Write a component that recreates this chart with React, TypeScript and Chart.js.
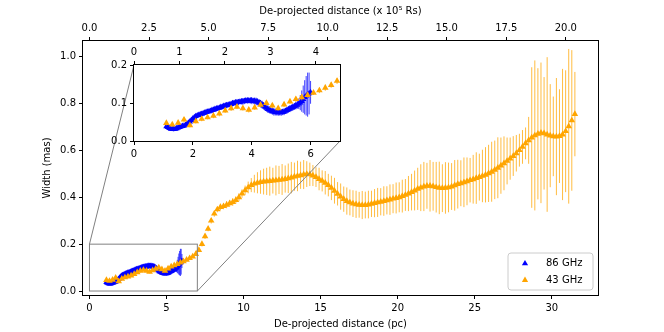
import React, { useEffect, useRef } from "react";
import { Chart, registerables } from "chart.js";

Chart.register(...registerables);

const FONT_FAMILY = "'DejaVu Sans', 'Liberation Sans', sans-serif";
const ORANGE = "#FFA500";
const BLUE = "#0000FF";

// ---------------- data ----------------
// 43 GHz: de-projected distance (pc)
const X43 = [
  1.1, 1.3, 1.5, 1.7, 1.9, 2.1, 2.3, 2.5, 2.7, 2.9, 3.1, 3.3, 3.5, 3.7, 3.9, 4.1, 4.3, 4.5, 4.7, 4.9,
  5.1, 5.3, 5.5, 5.7, 5.9, 6.1, 6.3, 6.5, 6.7, 6.9, 7.1, 7.3, 7.5, 7.7, 7.9, 8.1, 8.3, 8.5, 8.7, 8.9,
  9.1, 9.3, 9.5, 9.7, 9.9, 10.1, 10.3, 10.5, 10.7, 10.9, 11.1, 11.3, 11.5, 11.7, 11.9, 12.1, 12.3, 12.5, 12.7, 12.9,
  13.1, 13.3, 13.5, 13.7, 13.9, 14.1, 14.3, 14.5, 14.7, 14.9, 15.1, 15.3, 15.5, 15.7, 15.9, 16.1, 16.3, 16.5, 16.7, 16.9,
  17.1, 17.3, 17.5, 17.7, 17.9, 18.1, 18.3, 18.5, 18.7, 18.9, 19.1, 19.3, 19.5, 19.7, 19.9, 20.1, 20.3, 20.5, 20.7, 20.9,
  21.1, 21.3, 21.5, 21.7, 21.9, 22.1, 22.3, 22.5, 22.7, 22.9, 23.1, 23.3, 23.5, 23.7, 23.9, 24.1, 24.3, 24.5, 24.7, 24.9,
  25.1, 25.3, 25.5, 25.7, 25.9, 26.1, 26.3, 26.5, 26.7, 26.9, 27.1, 27.3, 27.5, 27.7, 27.9, 28.1, 28.3, 28.5, 28.7, 28.9,
  29.1, 29.3, 29.5, 29.7, 29.9, 30.1, 30.3, 30.5, 30.7, 30.9, 31.1, 31.3, 31.5,
];
// 43 GHz: width (mas)
const W43 = [
  0.047, 0.043, 0.048, 0.056, 0.041, 0.052, 0.058, 0.062, 0.066, 0.072, 0.080, 0.086, 0.090, 0.086, 0.082, 0.088, 0.095, 0.100, 0.093, 0.086,
  0.096, 0.104, 0.110, 0.115, 0.121, 0.127, 0.133, 0.140, 0.147, 0.158, 0.175, 0.200, 0.233, 0.265, 0.300, 0.330, 0.348, 0.358, 0.362, 0.368,
  0.374, 0.380, 0.388, 0.400, 0.416, 0.430, 0.442, 0.452, 0.458, 0.462, 0.465, 0.467, 0.468, 0.469, 0.471, 0.472, 0.474, 0.476, 0.478, 0.481,
  0.484, 0.488, 0.491, 0.494, 0.497, 0.499, 0.498, 0.493, 0.486, 0.478, 0.470, 0.462, 0.452, 0.440, 0.428, 0.415, 0.403, 0.392, 0.384, 0.378,
  0.373, 0.370, 0.368, 0.367, 0.367, 0.369, 0.372, 0.375, 0.378, 0.381, 0.384, 0.387, 0.390, 0.394, 0.397, 0.400, 0.405, 0.410, 0.416, 0.422,
  0.429, 0.436, 0.441, 0.446, 0.449, 0.449, 0.447, 0.443, 0.440, 0.439, 0.440, 0.442, 0.446, 0.451, 0.456, 0.460, 0.464, 0.468, 0.473, 0.477,
  0.482, 0.486, 0.491, 0.496, 0.502, 0.509, 0.517, 0.526, 0.535, 0.545, 0.555, 0.565, 0.576, 0.588, 0.601, 0.615, 0.630, 0.643, 0.655, 0.664,
  0.671, 0.675, 0.673, 0.668, 0.663, 0.660, 0.659, 0.661, 0.668, 0.682, 0.703, 0.728, 0.755,
];
// 43 GHz: half error (mas)
const E43 = [
  0.006, 0.005, 0.006, 0.007, 0.005, 0.006, 0.006, 0.005, 0.006, 0.007, 0.006, 0.007, 0.006, 0.006, 0.007, 0.006, 0.007, 0.008, 0.007, 0.006,
  0.007, 0.006, 0.007, 0.008, 0.007, 0.006, 0.007, 0.008, 0.007, 0.008,
  0.009, 0.010, 0.011, 0.010, 0.012, 0.013, 0.012, 0.014, 0.013, 0.015, 0.014, 0.016, 0.015, 0.017, 0.018,
  0.020, 0.025, 0.030, 0.038, 0.045, 0.050, 0.055, 0.058, 0.062, 0.055, 0.064, 0.060, 0.066, 0.058, 0.063, 0.067, 0.060, 0.065, 0.058, 0.062, 0.055,
  0.050, 0.045, 0.042, 0.048, 0.045, 0.050, 0.048, 0.052, 0.055, 0.050, 0.056, 0.054, 0.058, 0.055, 0.057,
  0.058, 0.055, 0.060, 0.057, 0.059, 0.056, 0.060, 0.062, 0.058, 0.063, 0.060, 0.065, 0.062, 0.066, 0.064, 0.070, 0.068, 0.075, 0.078,
  0.085, 0.090, 0.100, 0.105, 0.098, 0.110, 0.104, 0.108, 0.112, 0.102, 0.110, 0.106, 0.100, 0.108, 0.104, 0.098, 0.106, 0.102, 0.095, 0.104,
  0.110, 0.100, 0.112, 0.118, 0.122,
  0.128, 0.125, 0.130, 0.120, 0.115, 0.100, 0.090, 0.085, 0.078, 0.070, 0.072, 0.068, 0.100,
  0.300, 0.320, 0.280, 0.300, 0.240, 0.330, 0.220, 0.170, 0.250, 0.200, 0.280, 0.260, 0.330, 0.300, 0.180,
];

// 86 GHz: de-projected distance (pc)
const X86 = [
  1.10, 1.15, 1.20, 1.25, 1.30, 1.35, 1.40, 1.45, 1.50, 1.55, 1.60, 1.65, 1.70, 1.75, 1.80, 1.85, 1.90, 1.95, 2.00,
  2.05, 2.10, 2.15, 2.20, 2.25, 2.30, 2.35, 2.40, 2.45, 2.50, 2.55, 2.60, 2.65, 2.70, 2.75, 2.80, 2.85, 2.90, 2.95, 3.00,
  3.05, 3.10, 3.15, 3.20, 3.25, 3.30, 3.35, 3.40, 3.45, 3.50, 3.55, 3.60, 3.65, 3.70, 3.75, 3.80, 3.85, 3.90, 3.95, 4.00,
  4.05, 4.10, 4.15, 4.20, 4.25, 4.30, 4.35, 4.40, 4.45, 4.50, 4.55, 4.60, 4.65, 4.70, 4.75, 4.80, 4.85, 4.90, 4.95, 5.00,
  5.05, 5.10, 5.15, 5.20, 5.25, 5.30, 5.35, 5.40, 5.45, 5.50, 5.55, 5.60, 5.65, 5.70, 5.75, 5.80, 5.85, 5.90, 5.95, 6.00,
];
// 86 GHz: width (mas)
const W86 = [
  0.038, 0.036, 0.034, 0.032, 0.031, 0.031, 0.032, 0.033, 0.035, 0.036, 0.038, 0.039, 0.040, 0.042, 0.045, 0.048, 0.051, 0.055, 0.059,
  0.062, 0.065, 0.067, 0.068, 0.070, 0.071, 0.073, 0.074, 0.076, 0.077, 0.078, 0.079, 0.081, 0.082, 0.084, 0.085, 0.086, 0.087, 0.089, 0.090,
  0.092, 0.093, 0.094, 0.095, 0.096, 0.097, 0.099, 0.100, 0.101, 0.102, 0.102, 0.103, 0.104, 0.104, 0.105, 0.106, 0.106, 0.106, 0.106, 0.106,
  0.105, 0.105, 0.104, 0.103, 0.101, 0.099, 0.096, 0.093, 0.090, 0.087, 0.084, 0.082, 0.080, 0.078, 0.077, 0.076, 0.075, 0.075, 0.075, 0.075,
  0.076, 0.077, 0.079, 0.081, 0.083, 0.085, 0.087, 0.089, 0.091, 0.093, 0.095, 0.098, 0.101, 0.105, 0.110, 0.115, 0.119, 0.122, 0.125, 0.128,
];
// 86 GHz: half error (mas)
const E86 = [
  0.005, 0.006, 0.005, 0.004, 0.005, 0.006, 0.005, 0.006, 0.007, 0.006, 0.005, 0.006, 0.005, 0.006, 0.005, 0.006, 0.007, 0.006, 0.005,
  0.006, 0.007, 0.006, 0.005, 0.006, 0.007, 0.006, 0.007, 0.006, 0.007, 0.006, 0.005, 0.006, 0.007, 0.006, 0.007, 0.006, 0.007, 0.006, 0.007,
  0.006, 0.007, 0.008, 0.007, 0.006, 0.007, 0.008, 0.007, 0.008, 0.007, 0.008, 0.007, 0.008, 0.009, 0.008, 0.007, 0.008, 0.007, 0.008, 0.009,
  0.008, 0.009, 0.010, 0.009, 0.008, 0.009, 0.010, 0.009, 0.010, 0.009, 0.010, 0.009, 0.008, 0.009, 0.010, 0.009, 0.008, 0.009, 0.008, 0.009,
  0.008, 0.009, 0.008, 0.009, 0.008, 0.009, 0.008, 0.009, 0.009, 0.010, 0.010, 0.014, 0.020, 0.028, 0.036, 0.045, 0.052, 0.058, 0.055, 0.030,
];

const LABEL_86 = "86 GHz";
const LABEL_43 = "43 GHz";

// ticks
const MAIN_X_TICKS = [0, 5, 10, 15, 20, 25, 30];
const MAIN_TOP_TICKS = [0, 2.5, 5, 7.5, 10, 12.5, 15, 17.5, 20];
const MAIN_Y_TICKS = [0, 0.2, 0.4, 0.6, 0.8, 1.0];
const INSET_X_TICKS = [0, 2, 4, 6];
const INSET_TOP_TICKS = [0, 1, 2, 3, 4];
const INSET_Y_TICKS = [0, 0.1, 0.2];

// pc -> 10^5 Rs
const PC_TO_RS5 = 0.647;

const MAIN_X_RANGE = [-0.42, 33.0];
const MAIN_Y_RANGE = [-0.017, 1.067];
const INSET_X_RANGE = [0, 7];
const INSET_Y_RANGE = [0, 0.2];

// layout (pixels)
const W = 664;
const H = 332;
const MAIN_AREA = { left: 83, top: 41, right: 598, bottom: 295 };
const INSET_CANVAS = { left: 94, top: 30, width: 262, height: 135 };
const INSET_AREA = { left: 134, top: 65, right: 340, bottom: 141 };

const tickFont = { family: FONT_FAMILY, size: 10 };

function linAxis(
  axis: string,
  position: string,
  min: number,
  max: number,
  ticks: number[],
  fmt: (v: number) => string,
  size: number,
  title?: string,
  titlePad?: any
) {
  return {
    type: "linear",
    axis,
    position,
    min,
    max,
    afterBuildTicks: (s: any) => {
      s.ticks = ticks.map((v) => ({ value: v }));
    },
    afterFit: (s: any) => {
      if (s.isHorizontal()) s.height = size;
      else s.width = size;
    },
    ticks: {
      font: tickFont,
      color: "#000",
      padding: 3,
      autoSkip: false,
      maxRotation: 0,
      minRotation: 0,
      callback: (v: any) => fmt(Number(v)),
    },
    grid: {
      display: true,
      drawOnChartArea: false,
      drawTicks: true,
      tickLength: 4,
      tickColor: "#000",
      tickWidth: 1,
      color: "#000",
    },
    border: { display: false },
    title: title
      ? { display: true, text: title, color: "#000", font: tickFont, padding: titlePad }
      : { display: false },
  };
}

const errorBarPlugin = {
  id: "errorBars",
  beforeDatasetDraw(chart: any, args: any) {
    const ds = chart.data.datasets[args.index];
    const errs: number[] = ds.errors;
    if (!errs) return;
    const { ctx, chartArea: a } = chart;
    const xs = chart.scales.x;
    const ys = chart.scales.y;
    ctx.save();
    ctx.beginPath();
    ctx.rect(a.left, a.top, a.right - a.left, a.bottom - a.top);
    ctx.clip();
    ctx.strokeStyle = ds.errColor;
    ctx.lineWidth = 0.75;
    ds.data.forEach((p: any, i: number) => {
      const px = xs.getPixelForValue(p.x);
      ctx.beginPath();
      ctx.moveTo(px, ys.getPixelForValue(p.y - errs[i]));
      ctx.lineTo(px, ys.getPixelForValue(p.y + errs[i]));
      ctx.stroke();
    });
    ctx.restore();
  },
};

function drawFrame(ctx: CanvasRenderingContext2D, a: any) {
  ctx.save();
  ctx.strokeStyle = "#000";
  ctx.lineWidth = 1;
  const l = Math.round(a.left) - 0.5;
  const t = Math.round(a.top) - 0.5;
  const r = Math.round(a.right) + 0.5;
  const b = Math.round(a.bottom) + 0.5;
  ctx.strokeRect(l, t, r - l, b - t);
  ctx.restore();
}

function triangle(ctx: CanvasRenderingContext2D, x: number, y: number, r: number, color: string) {
  ctx.beginPath();
  ctx.moveTo(x, y - r);
  ctx.lineTo(x + r * 0.866, y + r * 0.5);
  ctx.lineTo(x - r * 0.866, y + r * 0.5);
  ctx.closePath();
  ctx.fillStyle = color;
  ctx.fill();
}

const mainDecor = {
  id: "mainDecor",
  afterDatasetsDraw(chart: any) {
    const { ctx, chartArea: a, scales } = chart;
    const xs = scales.x;
    const ys = scales.y;
    ctx.save();
    // zoom rectangle + connectors
    const rx0 = xs.getPixelForValue(INSET_X_RANGE[0]);
    const rx1 = xs.getPixelForValue(INSET_X_RANGE[1]);
    const ry0 = ys.getPixelForValue(INSET_Y_RANGE[0]);
    const ry1 = ys.getPixelForValue(INSET_Y_RANGE[1]);
    ctx.strokeStyle = "#808080";
    ctx.lineWidth = 1;
    ctx.strokeRect(rx0, ry1, rx1 - rx0, ry0 - ry1);
    ctx.beginPath();
    ctx.moveTo(rx0, ry1);
    ctx.lineTo(INSET_AREA.left, INSET_AREA.top);
    ctx.moveTo(rx1, ry0);
    ctx.lineTo(INSET_AREA.right, INSET_AREA.bottom);
    ctx.stroke();
    ctx.restore();

    drawFrame(ctx, a);

    // legend
    const lw = 85;
    const lh = 37;
    const lx = a.right - 5 - lw;
    const ly = a.bottom - 5 - lh;
    const rr = 3;
    ctx.save();
    ctx.beginPath();
    ctx.moveTo(lx + rr, ly);
    ctx.lineTo(lx + lw - rr, ly);
    ctx.arcTo(lx + lw, ly, lx + lw, ly + rr, rr);
    ctx.lineTo(lx + lw, ly + lh - rr);
    ctx.arcTo(lx + lw, ly + lh, lx + lw - rr, ly + lh, rr);
    ctx.lineTo(lx + rr, ly + lh);
    ctx.arcTo(lx, ly + lh, lx, ly + lh - rr, rr);
    ctx.lineTo(lx, ly + rr);
    ctx.arcTo(lx, ly, lx + rr, ly, rr);
    ctx.closePath();
    ctx.fillStyle = "rgba(255,255,255,0.8)";
    ctx.fill();
    ctx.strokeStyle = "#cccccc";
    ctx.lineWidth = 1;
    ctx.stroke();
    const entries = [
      { label: LABEL_86, color: BLUE },
      { label: LABEL_43, color: ORANGE },
    ];
    ctx.font = `10px ${FONT_FAMILY}`;
    ctx.textBaseline = "middle";
    ctx.textAlign = "left";
    entries.forEach((e, i) => {
      const cy = ly + 10.5 + i * 16.6;
      triangle(ctx, lx + 17, cy, 3.6, e.color);
      ctx.fillStyle = "#000";
      ctx.fillText(e.label, lx + 38, cy);
    });
    ctx.restore();
  },
};

const insetDecor = {
  id: "insetDecor",
  beforeDatasetsDraw(chart: any) {
    const { ctx, chartArea: a } = chart;
    ctx.save();
    ctx.fillStyle = "#fff";
    ctx.fillRect(a.left, a.top, a.right - a.left, a.bottom - a.top);
    ctx.restore();
  },
  afterDatasetsDraw(chart: any) {
    drawFrame(chart.ctx, chart.chartArea);
  },
};

function makeDatasets(clip: any) {
  return [
    {
      label: LABEL_43,
      data: X43.map((x, i) => ({ x, y: W43[i] })),
      errors: E43,
      errColor: ORANGE,
      backgroundColor: ORANGE,
      borderColor: ORANGE,
      pointStyle: "triangle",
      pointRadius: 3.8,
      pointBorderWidth: 0,
      showLine: false,
      clip,
    },
    {
      label: LABEL_86,
      data: X86.map((x, i) => ({ x, y: W86[i] })),
      errors: E86,
      errColor: BLUE,
      backgroundColor: BLUE,
      borderColor: BLUE,
      pointStyle: "triangle",
      pointRadius: 3.6,
      pointBorderWidth: 0,
      showLine: false,
      clip,
    },
  ];
}

const fmt1 = (v: number) => v.toFixed(1);
const fmt0 = (v: number) => String(Math.round(v));

export default function App() {
  const mainRef = useRef<HTMLCanvasElement>(null);
  const insetRef = useRef<HTMLCanvasElement>(null);

  useEffect(() => {
    const main = new Chart(mainRef.current as HTMLCanvasElement, {
      type: "scatter",
      data: { datasets: makeDatasets(false) as any },
      options: {
        responsive: false,
        animation: false,
        devicePixelRatio: 1,
        events: [],
        layout: { padding: { left: 0, top: 0, right: W - MAIN_AREA.right, bottom: 0 } },
        plugins: { legend: { display: false }, tooltip: { enabled: false } },
        scales: {
          x: linAxis("x", "bottom", MAIN_X_RANGE[0], MAIN_X_RANGE[1], MAIN_X_TICKS, fmt0,
            H - MAIN_AREA.bottom, "De-projected distance (pc)", { top: 0, bottom: 2 }),
          x2: linAxis("x", "top", MAIN_X_RANGE[0] * PC_TO_RS5, MAIN_X_RANGE[1] * PC_TO_RS5, MAIN_TOP_TICKS, fmt1,
            MAIN_AREA.top, "De-projected distance (x 10\u2075 Rs)", { top: 5, bottom: 0 }),
          y: linAxis("y", "left", MAIN_Y_RANGE[0], MAIN_Y_RANGE[1], MAIN_Y_TICKS, fmt1,
            MAIN_AREA.left, "Width (mas)", { top: 41, bottom: 0 }),
        } as any,
      },
      plugins: [errorBarPlugin, mainDecor],
    });

    const inset = new Chart(insetRef.current as HTMLCanvasElement, {
      type: "scatter",
      data: { datasets: makeDatasets(0) as any },
      options: {
        responsive: false,
        animation: false,
        devicePixelRatio: 1,
        events: [],
        layout: {
          padding: {
            left: 0,
            top: 0,
            right: INSET_CANVAS.left + INSET_CANVAS.width - INSET_AREA.right,
            bottom: 0,
          },
        },
        plugins: { legend: { display: false }, tooltip: { enabled: false } },
        scales: {
          x: linAxis("x", "bottom", INSET_X_RANGE[0], INSET_X_RANGE[1], INSET_X_TICKS, fmt0,
            INSET_CANVAS.top + INSET_CANVAS.height - INSET_AREA.bottom),
          x2: linAxis("x", "top", INSET_X_RANGE[0] * PC_TO_RS5, INSET_X_RANGE[1] * PC_TO_RS5, INSET_TOP_TICKS, fmt0,
            INSET_AREA.top - INSET_CANVAS.top),
          y: linAxis("y", "left", INSET_Y_RANGE[0], INSET_Y_RANGE[1], INSET_Y_TICKS, fmt1,
            INSET_AREA.left - INSET_CANVAS.left),
        } as any,
      },
      plugins: [insetDecor, errorBarPlugin],
    });

    return () => {
      main.destroy();
      inset.destroy();
    };
  }, []);

  return (
    <div style={{ position: "fixed", left: 0, top: 0, width: W, height: H, background: "#fff" }}>
      <canvas
        ref={mainRef}
        width={W}
        height={H}
        style={{ position: "absolute", left: 0, top: 0, width: W, height: H }}
      />
      <canvas
        ref={insetRef}
        width={INSET_CANVAS.width}
        height={INSET_CANVAS.height}
        style={{
          position: "absolute",
          left: INSET_CANVAS.left,
          top: INSET_CANVAS.top,
          width: INSET_CANVAS.width,
          height: INSET_CANVAS.height,
        }}
      />
    </div>
  );
}
